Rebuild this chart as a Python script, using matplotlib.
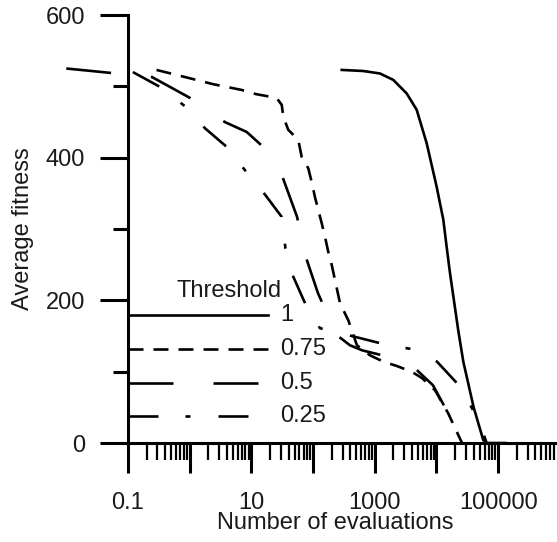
import matplotlib
matplotlib.use("Agg")
import matplotlib.pyplot as plt
from matplotlib.ticker import LogLocator, FixedLocator, FuncFormatter, NullFormatter

plt.rcParams['font.family'] = ['Liberation Sans', 'DejaVu Sans']
plt.rcParams['lines.scale_dashes'] = False

# ---- data ----
t1_x = [291, 650, 1213, 1995, 3290, 4780, 6940, 10070, 12900, 14600, 16560, 22500, 27200, 40000, 57300, 65200, 130000]
t1_y = [523, 521.5, 518, 509, 490, 467, 420, 359, 313, 275, 238, 158, 114, 50, 4, 0, 0]

t075_x = [0.29, 0.84, 2.4, 6.9, 12, 20, 26, 31, 33, 39.6, 57.5, 65.3, 83.6, 94.8, 107, 121, 138, 156, 176, 200, 273, 372, 513,
          835, 1374, 2265, 3960, 5820, 9460, 15400, 25600]
t075_y = [523, 513, 503, 495, 489, 485.5, 483, 474, 457, 439, 425, 401, 385, 366, 345, 327, 308, 289, 268, 250, 196, 172, 137,
          123, 114, 108, 100, 91, 74, 42, 1]

t05_x = [0.01, 0.05, 0.245, 1.0, 3.7, 8.4, 14.7, 31, 55, 74, 120, 188, 244, 396, 620, 1460, 2570, 4450, 8750, 15400, 25600]
t05_y = [525, 519, 513, 484, 450, 436, 417, 376, 317, 264, 210, 172, 151, 137, 130, 122, 115, 105, 81, 42, 1]

t025_x = [0.12, 0.35, 0.84, 1.78, 4.0, 8.1, 16.7, 31, 35.6, 47.8, 74, 129, 380, 1213, 3720, 10200, 21400, 37600, 55000, 65000]
t025_y = [520, 498, 472, 441, 415, 381, 348, 317, 273, 233, 196, 161, 151, 140, 132, 114, 84, 49, 18, 0]

legend_labels = ['1', '0.75', '0.5', '0.25']
legend_y = [180, 132, 84, 38]
legend_title = 'Threshold'

x_major = [0.1, 1, 10, 100, 1000, 10000, 100000, 1000000]
x_labelled = {0.1: '0.1', 10: '10', 1000: '1000', 100000: '100000'}
y_major = [0, 200, 400, 600]
y_minor = [100, 300, 500]

# ---- styles ----
LW = 1.9
styles = [
    dict(linestyle='-'),
    dict(linestyle=(0, (10.8, 7.2))),
    dict(linestyle=(0, (32.4, 28.8))),
    dict(linestyle=(0, (21.6, 19.4, 3.6, 20.2))),
]
series = [(t1_x, t1_y), (t075_x, t075_y), (t05_x, t05_y), (t025_x, t025_y)]

W, H = 557, 542
fig = plt.figure(figsize=(W / 100, H / 100), dpi=100)
ax = fig.add_axes([128 / W, (H - 443) / H, (W - 128) / W, (443 - 15) / H])

for (xs, ys), st in zip(series, styles):
    ax.plot(xs, ys, color='black', lw=LW, clip_on=False, solid_joinstyle='round', **st)

ax.set_xscale('log')
ax.set_xlim(0.1, 10 ** 5.953)
ax.set_ylim(0, 600)

for s in ['top', 'right']:
    ax.spines[s].set_visible(False)
for s in ['left', 'bottom']:
    ax.spines[s].set_linewidth(2.2)

ax.xaxis.set_major_locator(FixedLocator(x_major))
ax.xaxis.set_minor_locator(LogLocator(base=10, subs=range(2, 10), numticks=50))
ax.xaxis.set_major_formatter(FuncFormatter(lambda v, p: next((t for k, t in x_labelled.items() if abs(v - k) / k < 1e-6), '')))
ax.xaxis.set_minor_formatter(NullFormatter())
ax.yaxis.set_major_locator(FixedLocator(y_major))
ax.yaxis.set_minor_locator(FixedLocator(y_minor))

ax.tick_params(axis='x', which='major', direction='out', length=21.6, width=2.2, pad=13.5, labelsize=17)
ax.tick_params(axis='x', which='minor', direction='out', length=12, width=1.6)
ax.tick_params(axis='y', which='major', direction='out', length=20, width=2.2, pad=10.8, labelsize=17)
ax.tick_params(axis='y', which='minor', direction='out', length=10.8, width=2.2)
for lab in ax.get_xticklabels() + ax.get_yticklabels():
    lab.set_color('#1a1a1a')

# legend drawn manually
tr = ax.get_yaxis_transform()
for lab, yv, st in zip(legend_labels, legend_y, styles):
    ax.plot([0, 0.326], [yv, yv], transform=tr, color='black', lw=LW, clip_on=False, **st)
    ax.text(0.354, yv, lab, transform=tr, ha='left', va='center', fontsize=17, color='#1a1a1a')
ax.text(0.359, 213, legend_title, transform=tr, ha='right', va='center', fontsize=17, color='#1a1a1a')

fig.text(335 / W, 1 - 523 / H, 'Number of evaluations', ha='center', va='center', fontsize=17, color='#1a1a1a')
fig.text(23 / W, 1 - 229 / H, 'Average fitness', ha='center', va='center', rotation=90, fontsize=17, color='#1a1a1a')

fig.savefig('out.png', dpi=100)
